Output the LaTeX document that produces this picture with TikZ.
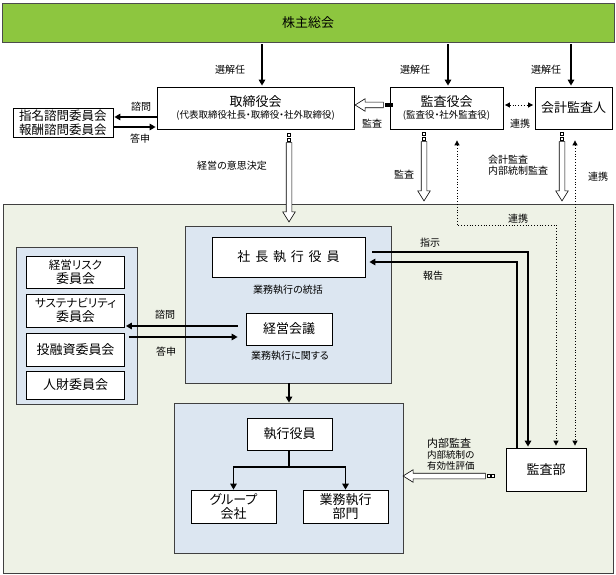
\documentclass[tikz,border=0pt]{standalone}
\usepackage{fontspec}
\setmainfont{Noto Sans CJK JP}[RawFeature=+palt]
\usetikzlibrary{arrows.meta, shapes.arrows, calc, positioning}

% hollow arrow from #2 to #3, small squares at its tail
\newcommand{\hollowarrow}[3][]{%
    \path let \p1=#2, \p2=#3, \n1={veclen(\x2-\x1,\y2-\y1)}, \n2={atan2(\y2-\y1,\x2-\x1)} in
        node [tailsq, #1, rotate=\n2] at ($(\p1)!-3pt!(\p2)$) {}
        node [tailsq, #1, rotate=\n2] at ($(\p1)!-7.5pt!(\p2)$) {}
        node [hollowarr, minimum height=\n1, rotate=\n2] at (\p1) {};
}

\begin{document}
\begin{tikzpicture}[x=1pt, y=-1pt]
    \definecolor{soukaigreen}{RGB}{141,198,63}
    \definecolor{outerbg}{RGB}{238,242,230}
    \definecolor{bluebg}{RGB}{220,230,241}
    \def\lw{0.8pt}
    \def\boxfont{\fontsize{13}{15}\selectfont}
    \def\smallfont{\fontsize{9.5}{11}\selectfont}
    \def\katafont{\fontsize{11.5}{13}\selectfont}

    \tikzstyle{box} = [draw, line width=\lw, fill=white, align=center, inner sep=0pt, font=\boxfont]
    \tikzstyle{area} = [draw=black!75, line width=\lw, inner sep=0pt]
    \tikzstyle{arr} = [line width=1.6pt, -{Triangle[length=6pt, width=6.5pt]}]
    \tikzstyle{link} = [line width=0.8pt, dotted, {Triangle[length=5pt, width=5pt]}-{Triangle[length=5pt, width=5pt]}]
    \tikzstyle{lbl} = [inner sep=0pt, font=\fontsize{10}{11.5}\selectfont]
    \tikzstyle{hollowarr} = [single arrow, draw, fill=white, line width=0.6pt, inner xsep=0pt, inner ysep=2.5pt,
        single arrow head extend=3.5pt, single arrow tip angle=64, single arrow head indent=0pt, anchor=tail]
    \tikzstyle{tailsq} = [draw, line width=0.6pt, fill=white, inner sep=0pt, minimum size=3pt]

    \useasboundingbox (0,0) rectangle (616,575);

    % shareholders meeting
    \node (soukai) [draw=black!70, line width=\lw, fill=soukaigreen, minimum width=612, minimum height=39, font=\boxfont] at (308,22.5) {株主総会};

    % areas
    \node (shikkou-area) [area, fill=outerbg, minimum width=610, minimum height=369] at (308,388.5) {};
    \node (iinkai-area) [area, fill=bluebg, minimum width=121, minimum height=157] at (76.5,325.5) {};
    \node (shacho-area) [area, fill=bluebg, minimum width=206, minimum height=157] at (288,304.5) {};
    \node (bumon-area) [area, fill=bluebg, minimum width=229, minimum height=150] at (288.5,478) {};

    % boards
    \node (torishimari) [box, minimum width=197, minimum height=42] at (255.5,108) {取締役会\\[-3pt]{\smallfont (代表取締役社長・取締役・社外取締役)}};
    \node (kansayaku) [box, minimum width=113, minimum height=42] at (446.5,108) {監査役会\\[-3pt]{\smallfont (監査役・社外監査役)}};
    \node (kaikei) [box, minimum width=77, minimum height=42] at (573.5,108) {会計監査人};
    \node (shimei) [box, minimum width=100, minimum height=29, font=\fontsize{12.5}{14}\selectfont] at (63,122.5) {指名諮問委員会\\報酬諮問委員会};

    % committees
    \foreach \name/\y/\h/\txt in {risk/272/32/{{\katafont 経営リスク}\\委員会}, sust/310.5/33/{{\katafont サステナビリティ}\\委員会},
                                  yuushi/349.5/33/{投融資委員会}, jinzai/385/28/{人財委員会}}
        \node (\name) [box, minimum width=98, minimum height=\h, font=\fontsize{13}{13.5}\selectfont] at (75.5,\y) {\txt};

    % executives
    \node (shacho) [box, minimum width=153, minimum height=40, font=\boxfont\addfontfeatures{LetterSpace=37}] at (288.5,257) {社長執行役員};
    \node (keiei) [box, minimum width=86, minimum height=32] at (289,329) {経営会議};
    \node (shikkou) [box, minimum width=85, minimum height=32] at (289.5,434) {執行役員};
    \node (group) [box, minimum width=85, minimum height=33, font=\fontsize{13}{13.5}\selectfont] at (233.5,506.5) {グループ\\会社};
    \node (gyomu) [box, minimum width=85, minimum height=33, font=\fontsize{13}{13.5}\selectfont] at (345.5,506.5) {業務執行\\部門};
    \node (kansabu) [box, minimum width=80, minimum height=43] at (546,469.5) {監査部};

    % bend and column points
    \coordinate (e1) at (262,0);
    \coordinate (e2) at (448,0);
    \coordinate (e3) at (571,0);
    \coordinate (h1) at (289,0);
    \coordinate (h2) at (424,0);
    \coordinate (h3) at (562,0);
    \coordinate (k1) at (0,105);
    \coordinate (k2) at (0,476);
    \coordinate (d1) at (457,225);
    \coordinate (d2) at (556,225);
    \coordinate (d3) at (575,0);
    \coordinate (s1) at (528,252);
    \coordinate (s2) at (517,262);
    \coordinate (c1) at (0,117);
    \coordinate (c2) at (0,127);
    \coordinate (c3) at (0,326);
    \coordinate (c4) at (0,337);
    \coordinate (t1) at (289,467);

    % election
    \foreach \c/\n in {e1/torishimari, e2/kansayaku, e3/kaikei}
        \draw [arr, shorten <=2pt, shorten >=1pt] (soukai.south -| \c) -- (\n.north -| \c);
    \foreach \x/\n in {230/1, 415/2, 546/3}
        \node (senkai\n) [lbl] at (\x,70) {選解任};

    % consultation with the board
    \draw [arr, shorten >=1pt] (torishimari.west |- c1) -- (shimei.east |- c1);
    \draw [arr, shorten >=1pt] (shimei.east |- c2) -- (torishimari.west |- c2);
    \node (shimon1) [lbl] at (141,107) {諮問};
    \node (toushin1) [lbl] at (140,139) {答申};

    % audits
    \hollowarrow[fill=black]{($(kansayaku.west |- k1)+(-6,0)$)}{($(torishimari.east |- k1)+(1,0)$)}
    \node (kansa1) [lbl] at (372,124) {監査};
    \draw [link, shorten <=1.5pt, shorten >=1.5pt] (kansayaku.east |- k1) -- (kaikei.west |- k1);
    \node (renkei1) [lbl] at (520,124) {連携};

    \hollowarrow{($(torishimari.south -| h1)+(0,13)$)}{($(shacho-area.north -| h1)+(0,-4)$)}
    \node (ishi) [lbl] at (232,166) {経営の意思決定};
    \hollowarrow{($(kansayaku.south -| h2)+(0,12)$)}{($(shikkou-area.north -| h2)+(0,-3)$)}
    \node (kansa2) [lbl] at (404,175) {監査};
    \hollowarrow{($(kaikei.south -| h3)+(0,12)$)}{($(shikkou-area.north -| h3)+(0,-3)$)}
    \node (kaikeikansa) [lbl, align=left, anchor=west] at (488,165) {会計監査\\内部統制監査};

    % cooperation with the audit department
    \draw [link, shorten <=11pt, shorten >=2pt] (kansayaku.south -| d1) -- (d1) -- (d2) -- (kansabu.north -| d2);
    \node (renkei2) [lbl] at (518,219) {連携};
    \draw [link, shorten <=11pt, shorten >=2pt] (kaikei.south -| d3) -- (kansabu.north -| d3);
    \node (renkei3) [lbl] at (598,177) {連携};

    % instructions and reports
    \draw [arr, shorten <=7pt, shorten >=1pt] (shacho.east |- s1) -| (kansabu.north -| s1);
    \draw [arr, shorten >=4pt] (kansabu.north -| s2) |- (shacho.east |- s2);
    \node (shiji) [lbl] at (430,243) {指示};
    \node (houkoku) [lbl] at (433,276) {報告};

    % executive side
    \node (toukatsu) [lbl] at (288,290) {業務執行の統括};
    \node (kansuru) [lbl] at (290,356) {業務執行に関する};
    \draw [arr, shorten <=8pt, shorten >=1pt] (keiei.west |- c3) -- (sust.east |- c3);
    \draw [arr, shorten <=4pt, shorten >=8pt] (yuushi.east |- c4) -- (keiei.west |- c4);
    \node (shimon2) [lbl] at (165,315) {諮問};
    \node (toushin2) [lbl] at (166,352) {答申};

    \draw [arr] (shacho-area.south -| h1) -- (bumon-area.north -| h1);
    \draw [line width=1.6pt] (shikkou.south -| t1) -- (t1);
    \draw [arr] (t1) -| (group.north);
    \draw [arr] (t1) -| (gyomu.north);

    % internal audit
    \hollowarrow{($(kansabu.west |- k2)+(-20,0)$)}{(bumon-area.east |- k2)}
    \node (naibu) [lbl, align=left, anchor=west, font=\fontsize{9.5}{11}\selectfont] at (427,454) {{\fontsize{11}{12}\selectfont 内部監査}\\内部統制の\\有効性評価};
\end{tikzpicture}
\end{document}
